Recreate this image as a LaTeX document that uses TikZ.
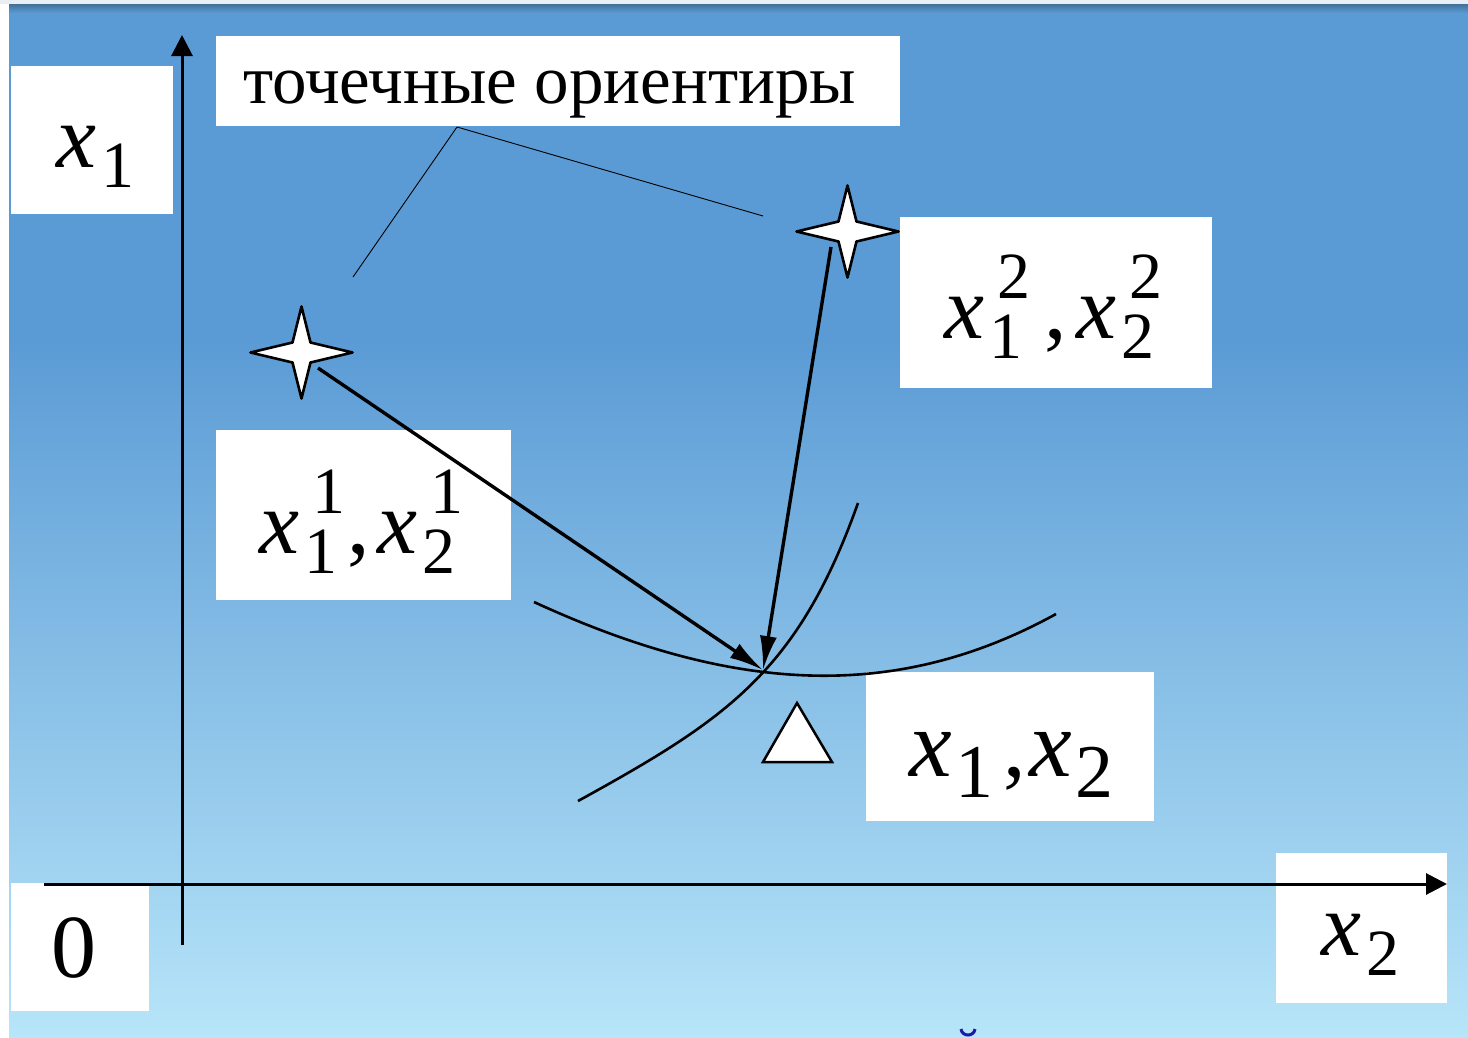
\documentclass[tikz,border=0pt]{standalone}
\usepackage{fontspec}
\setmainfont{Liberation Serif}
\usetikzlibrary{arrows.meta}
\definecolor{bgtop}{HTML}{5B9BD5}
\definecolor{bgbot}{HTML}{B7E5F9}
\definecolor{topband}{HTML}{E9EEF5}
\definecolor{shadowc}{HTML}{41709B}
\definecolor{glyphblue}{HTML}{1A1AA6}
\newcommand\bigx{{\fontsize{90}{90}\selectfont\itshape x}}
\newcommand\smd[1]{{\fontsize{66}{66}\selectfont #1}}
\newcommand\cmm{{\fontsize{90}{90}\selectfont ,}}
\newcommand\xsb[1]{\bigx\kern5pt\raisebox{-20pt}{\smd{#1}}}
\newcommand\xsbsp[2]{\bigx\kern5pt\rlap{\kern8pt\raisebox{40pt}{\smd{#2}}}\raisebox{-20pt}{\smd{#1}}}
\newcommand\xbig[1]{{\fontsize{96}{96}\selectfont\itshape x}\kern4pt\raisebox{-21pt}{\fontsize{76}{76}\selectfont #1}}
\tikzset{
 wbox/.style={fill=white, draw=none, inner sep=0pt},
 lbl/.style={inner sep=0pt, anchor=base west, text=black},
 axis/.style={line width=3pt, -{Triangle[length=21pt,width=21pt]}},
 pointer/.style={line width=3.4pt, -{Latex[length=34pt,width=17pt]}},
 leader/.style={line width=0.9pt},
 curve/.style={line width=2.6pt},
 starsh/.style={fill=white, draw=black, line width=2.6pt, line join=round},
 pics/fourstar/.style={code={\draw[starsh] (-51,0) -- (-9,-10) -- (0,-46) -- (9,-10) -- (51,0) -- (9,10) -- (0,46) -- (-9,10) -- cycle;}}
}
\begin{document}
\begin{tikzpicture}[x=1pt,y=-1pt]
\useasboundingbox (0,0) rectangle (1468,1037);
% background
\fill[topband] (0,0) rectangle (1468,4);
\fill[white] (0,4) rectangle (9,1037);
\fill[bgtop] (9,4) rectangle (1468,340);
\shade[top color=bgtop, bottom color=bgbot] (9,340) rectangle (1468,1037);
\shade[top color=shadowc, bottom color=bgtop] (9,4) rectangle (1468,13);
% white boxes
\node[wbox, minimum width=162pt, minimum height=148pt] (bx1) at (92,140) {};
\node[wbox, minimum width=684pt, minimum height=90pt] (btxt) at (558,81) {};
\node[wbox, minimum width=312pt, minimum height=171pt] (bp2) at (1056,302.5) {};
\node[wbox, minimum width=295pt, minimum height=170pt] (bp1) at (363.5,515) {};
\node[wbox, minimum width=288pt, minimum height=149pt] (bp0) at (1010,746) {};
\node[wbox, minimum width=138pt, minimum height=128pt] (bzero) at (80,947) {};
\node[wbox, minimum width=171pt, minimum height=150pt] (bx2) at (1361.5,928) {};
% labels
\node[lbl] (tx1) at (56,167) {\xsb{1}};
\node[lbl] (ttxt) at (243,103) {\fontsize{69}{69}\selectfont точечные ориентиры};
\node[lbl] (tp2) at (944,338) {\xsbsp{1}{2}\kern22pt\cmm\kern10pt\xsbsp{2}{2}};
\node[lbl] (tp1) at (259,553) {\xsbsp{1}{1}\kern10pt\cmm\kern8pt\xsbsp{2}{1}};
\node[lbl] (tp0) at (909,776) {\xbig{1}\kern10pt\cmm\kern3pt\xbig{2}};
\node[lbl] (tzero) at (51,977) {\fontsize{90}{90}\selectfont 0};
\node[lbl] (tx2) at (1321,955) {\xsb{2}};
% axes
\coordinate (yb) at (182,945);
\coordinate (yt) at (182,35);
\coordinate (xl) at (44,884);
\coordinate (xr) at (1447,884);
\draw[axis] (yb) -- (yt);
\draw[axis] (xl) -- (xr);
% curves
\draw[curve] (534,602) .. controls (734,694) and (896,702) .. (1056,614);
\draw[curve] (578,801) .. controls (728,718.5) and (798,671) .. (858,503);
% stars
\pic (st1) at (301.5,352.5) {fourstar};
\pic (st2) at (847.5,231.5) {fourstar};
% leader lines
\coordinate (lp) at (457,127);
\coordinate (l1) at (353,277);
\coordinate (l2) at (763,216);
\draw[leader] (lp) -- (l1);
\draw[leader] (lp) -- (l2);
% pointers
\coordinate (s1) at (318,368);
\coordinate (s2) at (831,247);
\coordinate (m) at (763,670);
\draw[pointer] (s1) -- (m);
\draw[pointer] (s2) -- (m);
% triangle
\draw[fill=white, line width=2.5pt, line join=miter] (763,762) -- (797,703) -- (832,762) -- cycle;
% glyph fragment at bottom
\draw[glyphblue, line width=3pt] (961,1029) .. controls (962,1037) and (974,1037) .. (975,1029);
\end{tikzpicture}
\end{document}
